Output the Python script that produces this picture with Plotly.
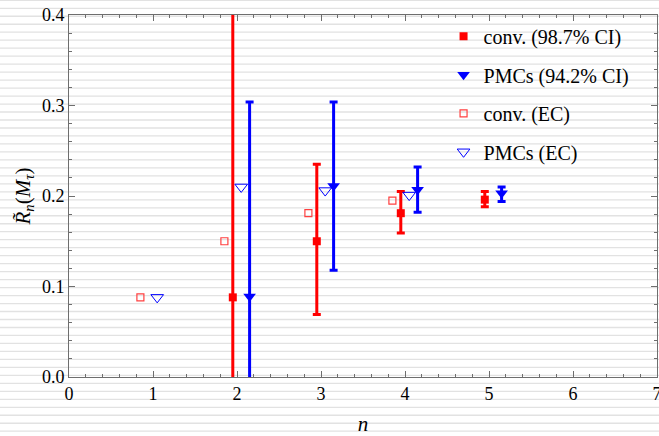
import numpy as np
import plotly.graph_objects as go

# ---- data ----
n_ci = [2, 3, 4, 5]
conv_ci_y = [0.088, 0.150, 0.181, 0.196]
conv_ci_lo = [-0.10, 0.069, 0.159, 0.188]
conv_ci_hi = [0.60, 0.235, 0.205, 0.205]

pmc_ci_y = [0.089, 0.211, 0.207, 0.203]
pmc_ci_lo = [-0.10, 0.118, 0.182, 0.194]
pmc_ci_hi = [0.304, 0.304, 0.232, 0.210]

n_ec = [1, 2, 3, 4]
conv_ec_y = [0.088, 0.150, 0.181, 0.195]
pmc_ec_y = [0.088, 0.210, 0.206, 0.201]

x_ticks = [0, 1, 2, 3, 4, 5, 6, 7]
y_ticks = [0.0, 0.1, 0.2, 0.3, 0.4]

RED = "#ff0000"
BLUE = "#0000ff"
FONT = "'Liberation Serif', 'DejaVu Serif', serif"

def shift(xs, d):
    return [x + d for x in xs]

def err(y, lo, hi):
    plus = [h - v for v, h in zip(y, hi)]
    minus = [v - l for v, l in zip(y, lo)]
    return plus, minus

fig = go.Figure()

p, m = err(conv_ci_y, conv_ci_lo, conv_ci_hi)
fig.add_trace(go.Scatter(
    x=shift(n_ci, -0.05), y=conv_ci_y, mode="markers", name="conv. (98.7% CI)",
    legendgroup="a",
    marker=dict(symbol="square", size=8, color=RED),
    error_y=dict(type="data", symmetric=False, array=p, arrayminus=m,
                 color=RED, thickness=3, width=4),
))
p, m = err(pmc_ci_y, pmc_ci_lo, pmc_ci_hi)
fig.add_trace(go.Scatter(
    x=shift(n_ci, 0.15), y=pmc_ci_y, mode="markers", name="PMCs (94.2% CI)",
    legendgroup="b",
    marker=dict(symbol="triangle-down", size=11, color=BLUE),
    error_y=dict(type="data", symmetric=False, array=p, arrayminus=m,
                 color=BLUE, thickness=3, width=4),
))
fig.add_trace(go.Scatter(
    x=shift(n_ec, -0.15), y=conv_ec_y, mode="markers", name="conv. (EC)",
    legendgroup="c",
    marker=dict(symbol="square-open", size=7, color="#ff4040", line=dict(width=1.2)),
))
fig.add_trace(go.Scatter(
    x=shift(n_ec, 0.05), y=pmc_ec_y, mode="markers", name="PMCs (EC)",
    legendgroup="d",
    marker=dict(symbol="triangle-down-open", size=11, color=BLUE, line=dict(width=1)),
))

# ---- lined-paper background ----
W, H = 659, 436
ml, mr, mt, mb = 69, 2, 15, 59
ph = H - mt - mb
shapes = []
for k in range(56):
    ypx = 0.3 + 7.98 * k
    if ypx > H:
        break
    yf = (H - mb - ypx) / ph
    shapes.append(dict(type="line", xref="paper", yref="paper",
                       x0=-0.2, x1=1.1, y0=yf, y1=yf,
                       line=dict(color="#e2e2e2", width=1.3), layer="below"))

axis_common = dict(
    showline=True, linecolor="#6e6e6e", linewidth=1, mirror="ticks",
    ticks="inside", tickcolor="#6e6e6e", ticklen=6, tickwidth=1,
    showgrid=False, zeroline=False, ticklabeloverflow="allow", automargin=False,
    tickfont=dict(family=FONT, size=18, color="black"),
)

fig.update_layout(
    width=W, height=H,
    margin=dict(l=ml, r=mr, t=mt, b=mb),
    paper_bgcolor="white", plot_bgcolor="rgba(0,0,0,0)",
    shapes=shapes,
    font=dict(family=FONT, color="black"),
    xaxis=dict(range=[0, 7], tickvals=x_ticks, ticktext=[str(v) for v in x_ticks],
               minor=dict(dtick=0.2, ticks="inside", ticklen=3, tickcolor="#6e6e6e"),
               title=dict(text="<i>n</i>", font=dict(family=FONT, size=21), standoff=19),
               **axis_common),
    yaxis=dict(range=[0, 0.4], tickvals=y_ticks, ticktext=[f"{v:.1f}" for v in y_ticks],
               minor=dict(dtick=0.02, ticks="inside", ticklen=3, tickcolor="#6e6e6e"),
               title=dict(text="<i>R\u0303</i><sub><i>n</i></sub>(<i>M</i><sub><i>τ</i></sub>)",
                          font=dict(family=FONT, size=21), standoff=5),
               **axis_common),
    legend=dict(x=0.637, y=0.995, xanchor="left", yanchor="top",
                bgcolor="rgba(0,0,0,0)", borderwidth=0,
                font=dict(family=FONT, size=20, color="black"),
                traceorder="grouped", tracegroupgap=9.5),
)

fig.write_html("out.html")
